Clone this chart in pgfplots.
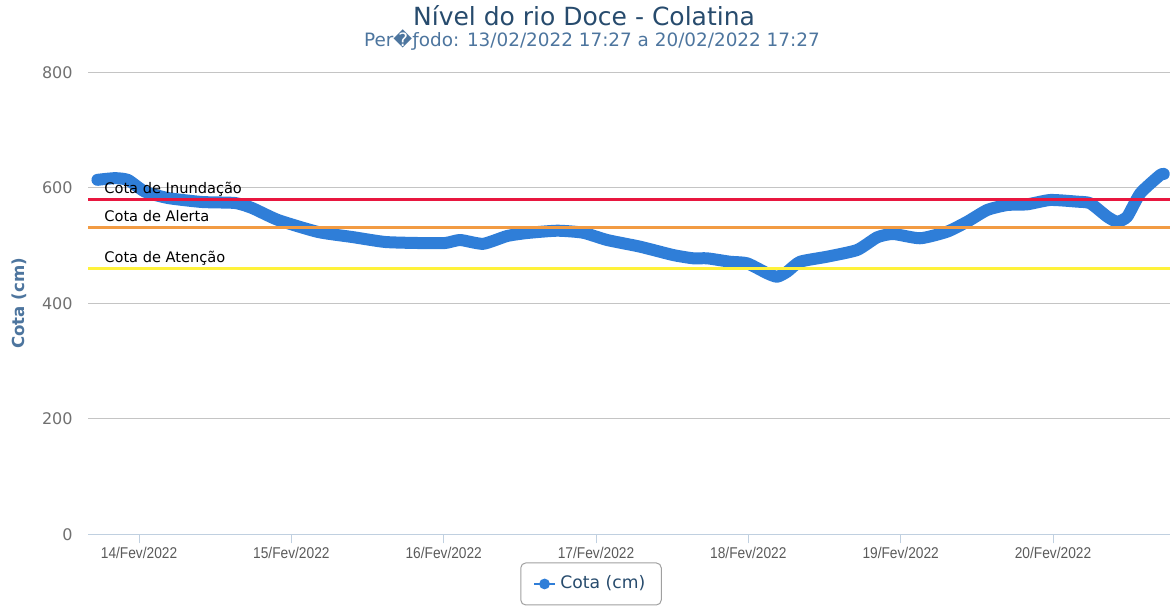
\documentclass[border=0pt]{standalone}
\usepackage{pgfplots}
\pgfplotsset{compat=1.18}
\usepackage{fontspec}
\setmainfont{DejaVu Sans}
\newfontfamily\narrowfont{Liberation Sans}[FakeStretch=0.88]
\definecolor{serie}{HTML}{2F7ED8}
\definecolor{cinund}{HTML}{E8173F}
\definecolor{calert}{HTML}{F29B43}
\definecolor{caten}{HTML}{FFF23A}
\definecolor{cgrid}{HTML}{C4C4C4}
\definecolor{caxis}{HTML}{C0D0E0}
\definecolor{ctitle}{HTML}{274B6D}
\definecolor{csub}{HTML}{4D759E}
\definecolor{cyt}{HTML}{707070}
\definecolor{cxt}{HTML}{5A5A5A}
\definecolor{clegb}{HTML}{A0A0A0}
\begin{document}
\begin{tikzpicture}
\useasboundingbox (0,0) rectangle (585pt,304.5pt);
\node[anchor=base, text=ctitle, font=\fontsize{12.5}{15}\selectfont, inner sep=0pt] at (292pt,291.5pt) {Nível do rio Doce - Colatina};
\node[anchor=base, text=csub, font=\fontsize{9.2}{11}\selectfont, inner sep=0pt] at (296pt,281pt) {Per�ƒodo: 13/02/2022 17:27 a 20/02/2022 17:27};
\begin{axis}[
  at={(44pt,37.35pt)}, anchor=south west,
  scale only axis, width=541pt, height=231pt,
  xmin=13.665, xmax=20.768, ymin=0, ymax=800,
  axis x line*=bottom, axis y line*=left,
  x axis line style={draw=caxis, line width=0.5pt},
  y axis line style={draw=none},
  xtick={14,15,16,17,18,19,20},
  xticklabels={14/Fev/2022,15/Fev/2022,16/Fev/2022,17/Fev/2022,18/Fev/2022,19/Fev/2022,20/Fev/2022},
  ytick={0,200,400,600,800},
  tick align=outside,
  major tick length=4.5pt,
  xtick style={draw=caxis, line width=0.5pt},
  ytick style={draw=none},
  ymajorgrids, grid style={draw=cgrid, line width=0.5pt},
  /pgf/number format/assume math mode=true,
  yticklabel style={font=\fontsize{8}{9}\selectfont, text=cyt, anchor=east, inner sep=0pt},
  yticklabel shift=3pt,
  xticklabel style={font=\narrowfont\fontsize{7.8}{9}\selectfont, text=cxt, anchor=north, inner sep=0pt},
  xticklabel shift=1.8pt,
  ylabel={Cota (cm)},
  every axis y label/.style={at={(axis description cs:-0.0638,0.5)}, rotate=90, anchor=center,
    font=\bfseries\fontsize{8.3}{10}\selectfont, text=csub},
  legend style={at={(rel axis cs:0.4649,-0.1075)}, anchor=center, draw=clegb, rounded corners=2.5pt,
    font=\fontsize{8.6}{10}\selectfont, text=ctitle, inner xsep=6pt, inner ysep=4.5pt, line width=0.5pt},
  legend cell align=left,
]
\addplot[serie, line width=6pt, line join=round, line cap=round, smooth, tension=0.35,
  legend image code/.code={
    \path[draw=serie, line width=1.3pt, line cap=butt, fill=none] (0pt,0pt) -- (10.5pt,0pt);
    \path[fill=serie, draw=none] (5.25pt,0pt) circle[radius=2.7pt];}]
coordinates {
(13.727,613.8) (13.842,616.7) (13.928,613.5) (14.039,593.2) (14.190,582.3)
(14.414,575.4) (14.630,573.7) (14.742,565.0) (14.913,544.2) (15.175,523.5)
(15.399,514.8) (15.615,506.2) (15.832,504.4) (16.009,504.4) (16.108,509.6)
(16.259,503.0) (16.416,516.5) (16.548,521.7) (16.745,525.7) (16.915,522.2)
(17.073,509.6) (17.290,498.0) (17.506,483.6) (17.638,477.9) (17.729,477.9)
(17.880,472.0) (17.992,469.3) (18.123,452.0) (18.189,446.0) (18.255,454.7)
(18.340,472.0) (18.517,480.7) (18.714,492.3) (18.846,514.3) (18.951,520.0)
(19.128,512.6) (19.305,524.0) (19.437,541.3) (19.568,561.6) (19.699,570.2)
(19.831,571.4) (19.982,578.9) (20.159,576.0) (20.244,573.2) (20.356,550.0)
(20.421,541.3) (20.487,550.0) (20.573,590.5) (20.704,622.2) (20.727,624.0)
};
\addlegendentry{Cota (cm)}
\addplot[cinund, line width=1.5pt, forget plot] coordinates {(13.665,580) (20.768,580)};
\addplot[calert, line width=1.5pt, forget plot] coordinates {(13.665,531) (20.768,531)};
\addplot[caten, line width=1.5pt, forget plot] coordinates {(13.665,460) (20.768,460)};
\node[anchor=base west, inner sep=0pt, font=\fontsize{7.3}{9}\selectfont] at (axis cs:13.770,580) [yshift=3.1pt] {Cota de Inundação};
\node[anchor=base west, inner sep=0pt, font=\fontsize{7.3}{9}\selectfont] at (axis cs:13.770,531) [yshift=3.1pt] {Cota de Alerta};
\node[anchor=base west, inner sep=0pt, font=\fontsize{7.3}{9}\selectfont] at (axis cs:13.770,460) [yshift=3.1pt] {Cota de Atenção};
\end{axis}
\end{tikzpicture}
\end{document}
